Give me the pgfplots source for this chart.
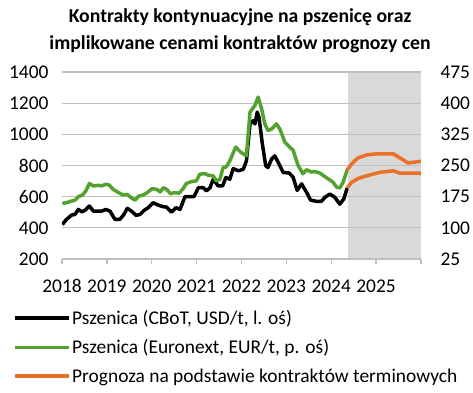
\documentclass[border=0pt]{standalone}
\usepackage{fontspec}
\setmainfont{Carlito}
\usepackage{pgfplots}
\pgfplotsset{compat=1.18}
\definecolor{cgreen}{RGB}{84,162,46}
\definecolor{corange}{RGB}{234,112,40}
\definecolor{cgrid}{RGB}{191,191,191}
\definecolor{cshade}{RGB}{217,217,217}
\begin{document}
\begin{tikzpicture}
\pgfplotsset{
  base/.style={scale only axis, width=359bp, height=187bp, xmin=2018, xmax=2026,
    tick label style={font=\fontsize{19.5}{19.5}\selectfont},
    /pgf/number format/assume math mode=true,
    /pgf/number format/1000 sep={}},
}
\useasboundingbox (-62bp,-134bp) rectangle (411bp,259bp);
% shading
\begin{axis}[base, hide axis, ymin=200, ymax=1400]
\addplot[fill=cshade, draw=none] coordinates {(2024.37,200) (2024.37,1400) (2026,1400) (2026,200)} -- cycle;
\end{axis}
% left axis
\begin{axis}[base, ymin=200, ymax=1400, ytick={200,400,...,1400},
  xtick={2018,2019,...,2026}, xticklabels={2018,2019,2020,2021,2022,2023,2024,2025,},
  ymajorgrids, grid style={cgrid, line width=1.3bp},
  axis line style={draw=none},
  xtick pos=bottom, ytick pos=left, tick align=outside, major tick length=5bp,
  xtick style={draw=cgrid, line width=1.3bp}, ytick style={draw=none},
  xticklabel style={yshift=-12bp},
  yticklabel style={xshift=-5bp},
  ]
\addplot[black, line width=3.5bp, line join=round] coordinates {
(2018.007,421) (2018.10,454) (2018.215,482) (2018.29,486) (2018.364,518) (2018.44,503)
(2018.51,512) (2018.61,540) (2018.70,507) (2018.81,507) (2018.88,507) (2018.98,518)
(2019.07,507) (2019.18,454) (2019.29,454) (2019.38,486) (2019.455,525) (2019.55,507)
(2019.65,480) (2019.74,486) (2019.83,512) (2019.92,529) (2020.03,561) (2020.145,546)
(2020.26,535) (2020.33,533) (2020.44,501) (2020.54,529) (2020.63,518) (2020.74,600)
(2020.85,600) (2020.94,600) (2021.04,658) (2021.15,658) (2021.22,637) (2021.30,658)
(2021.37,712) (2021.48,669) (2021.58,669) (2021.65,723) (2021.74,712) (2021.815,780)
(2021.93,766) (2022.04,776) (2022.11,830) (2022.19,1067) (2022.26,1088) (2022.30,1067)
(2022.35,1142) (2022.39,1110) (2022.46,948) (2022.54,798) (2022.59,787) (2022.67,841)
(2022.74,862) (2022.82,819) (2022.93,755) (2023.06,752) (2023.15,725) (2023.24,640)
(2023.34,682) (2023.45,628) (2023.54,578) (2023.67,570) (2023.78,570) (2023.86,596)
(2023.97,617) (2024.08,596) (2024.19,552) (2024.28,585) (2024.355,656)
};
\addplot[corange, line width=3.5bp, line join=round] coordinates {
(2024.355,656) (2024.45,691) (2024.60,717) (2024.79,734) (2025.08,756) (2025.38,766)
(2025.53,751) (2026.0,751)
};
\end{axis}
% right axis
\begin{axis}[base, ymin=25, ymax=475, ytick={25,100,...,475},
  axis x line=none, axis y line*=right, axis line style={draw=none},
  ytick style={draw=none}, xtick=\empty,
  yticklabel style={xshift=16bp},
  legend cell align=left,
  legend style={draw=none, fill=none, at={(-0.1365,-0.265)}, anchor=north west,
    font=\fontsize{19.5}{19.5}\selectfont, row sep=10.5bp, inner sep=0pt,
    nodes={inner sep=1.5bp}},
  legend image code/.code={\draw[#1] (0bp,0bp) -- (54bp,0bp);},
  ]
\addlegendimage{black, line width=3.5bp}
\addlegendentry{Pszenica (CBoT, USD/t, l. oś)}
\addplot[cgreen, line width=3.5bp, line join=round] coordinates {
(2018.007,158.9) (2018.10,160.4) (2018.215,164.5) (2018.29,166.75) (2018.364,175)
(2018.46,179.1) (2018.53,188.9) (2018.61,206.5) (2018.70,200.9) (2018.81,202.4)
(2018.88,200.9) (2018.98,205) (2019.05,203.1) (2019.14,192.6) (2019.26,184.75)
(2019.36,179.1) (2019.45,180.6) (2019.54,172.75) (2019.63,166.75) (2019.71,176.5)
(2019.81,179.1) (2019.90,184.75) (2020.01,194.5) (2020.11,192.6) (2020.19,186.25)
(2020.26,196.75) (2020.33,192.6) (2020.42,182.1) (2020.51,184.75) (2020.61,183.25)
(2020.70,194.5) (2020.77,206.5) (2020.885,211.4) (2020.996,212.9) (2021.07,229)
(2021.18,230.5) (2021.26,226.75) (2021.37,224.9) (2021.44,212.9) (2021.52,217)
(2021.59,245.1) (2021.66,246.6) (2021.74,261.25) (2021.87,294.25) (2021.98,282.25)
(2022.11,273.25) (2022.19,378.25) (2022.225,383.9) (2022.30,394.4) (2022.37,414.6)
(2022.45,386.1) (2022.52,350.1) (2022.59,334) (2022.67,337.75) (2022.78,350.1)
(2022.855,337.75) (2022.97,305.5) (2023.08,293.5) (2023.15,286.75) (2023.26,250.4)
(2023.37,230.1) (2023.45,239.9) (2023.56,234.25) (2023.63,235.75) (2023.75,231.6)
(2023.82,226) (2023.93,218.1) (2024.04,209.9) (2024.12,197.9) (2024.19,196)
(2024.265,209.9) (2024.355,239.9)
};
\addlegendentry{Pszenica (Euronext, EUR/t, p. oś)}
\addplot[corange, line width=3.5bp, line join=round] coordinates {
(2024.355,239.9) (2024.49,257.9) (2024.60,268.4) (2024.79,275.5) (2025.01,278.1)
(2025.38,278.1) (2025.57,265.75) (2025.71,256) (2026.0,260.1)
};
\addlegendentry{Prognoza na podstawie kontraktów terminowych}
\end{axis}
\node[font=\bfseries\fontsize{19.8}{27}\selectfont, align=center] at (178bp,228.5bp)
  {Kontrakty kontynuacyjne na pszenicę oraz\\implikowane cenami kontraktów prognozy cen};
\end{tikzpicture}
\end{document}
